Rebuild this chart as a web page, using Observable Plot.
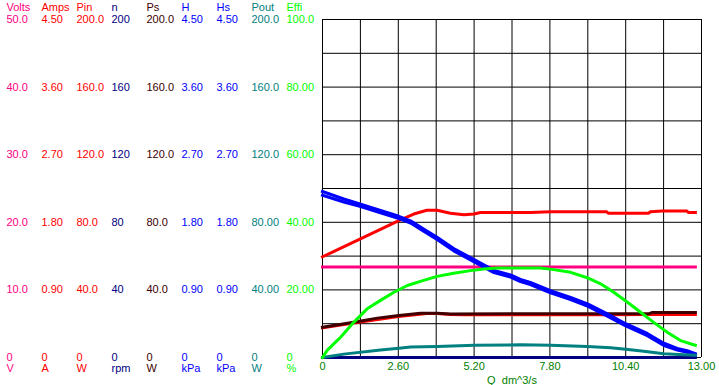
<!DOCTYPE html>
<html>
<head>
<meta charset="utf-8">
<script src="https://cdn.jsdelivr.net/npm/d3@7"></script>
<script src="https://cdn.jsdelivr.net/npm/@observablehq/plot@0.6"></script>
<style>
  html, body { margin: 0; padding: 0; background: #fff; }
  svg { display: block; }
</style>
</head>
<body>
<div id="chart"></div>
<script>
// ---- Column definitions (left label columns) ----
const colNames  = ["Volts", "Amps", "Pin", "n", "Ps", "H", "Hs", "Pout", "Effi"];
const colUnits  = ["V", "A", "W", "rpm", "W", "kPa", "kPa", "W", "%"];
const colMax    = [50, 4.5, 200, 200, 200, 4.5, 4.5, 200, 100];
const colColors = ["#ff0080", "#ff0000", "#ff0000", "#000080", "#400000", "#0000ff", "#0000ff", "#008080", "#00ff00"];

// tick labels for each column, bottom (0) to top
const voltsTicks = ["0", "10.0", "20.0", "30.0", "40.0", "50.0"];
const ampsTicks  = ["0", "0.90", "1.80", "2.70", "3.60", "4.50"];
const pinTicks   = ["0", "40.0", "80.0", "120.0", "160.0", "200.0"];
const nTicks     = ["0", "40", "80", "120", "160", "200"];
const psTicks    = ["0", "40.0", "80.0", "120.0", "160.0", "200.0"];
const hTicks     = ["0", "0.90", "1.80", "2.70", "3.60", "4.50"];
const hsTicks    = ["0", "0.90", "1.80", "2.70", "3.60", "4.50"];
const poutTicks  = ["0", "40.00", "80.00", "120.0", "160.0", "200.0"];
const effiTicks  = ["0", "20.00", "40.00", "60.00", "80.00", "100.0"];
const colTicks = [voltsTicks, ampsTicks, pinTicks, nTicks, psTicks, hTicks, hsTicks, poutTicks, effiTicks];
const tickFractions = [0, 0.2, 0.4, 0.6, 0.8, 1.0];

// x axis
const xTickValues = [0, 2.6, 5.2, 7.8, 10.4, 13.0];
const xTickLabels = ["0", "2.60", "5.20", "7.80", "10.40", "13.00"];
const xLabel = "Q\u00a0 dm^3/s";

// ---- Series (Q in dm^3/s) ----
const voltsQ = [0, 12.79];
const voltsV = [13.4, 13.4];

const ampsQ = [0, 1.3, 2.6, 3.13, 3.58, 3.93, 4.39, 4.85, 5.19, 5.42, 7.13, 7.82, 9.75, 9.8, 11.18, 11.25, 11.65, 12.5, 12.55, 12.79];
const ampsV = [1.34, 1.58, 1.82, 1.91, 1.96, 1.96, 1.92, 1.90, 1.91, 1.93, 1.93, 1.94, 1.94, 1.92, 1.92, 1.94, 1.95, 1.95, 1.93, 1.93];

const pinQ = [0, 1.3, 2.6, 3.58, 3.93, 4.39, 4.85, 5.42, 9.75, 11.18, 11.25, 12.79];
const pinV = [17.6, 21.0, 24.3, 26.0, 26.0, 25.5, 25.3, 25.3, 25.3, 25.4, 25.6, 25.4];

const nQ = [0, 12.79];
const nV = [0, 0];

const psQ = [0, 1.07, 1.88, 2.62, 3.36, 3.93, 4.39, 7.5, 11.2, 11.3, 12.79];
const psV = [17.9, 20.9, 23.3, 24.9, 26.2, 26.2, 25.8, 25.9, 25.9, 26.6, 26.6];

const hQ = [0, 0.73, 1.31, 1.88, 2.62, 3.02, 3.47, 3.93, 4.50, 5.22, 5.88, 6.45, 6.79, 7.13, 7.82, 8.51, 9.11, 9.77, 10.40, 11.14, 11.71, 12.17, 12.51, 12.79];
const hV = [2.21, 2.11, 2.04, 1.97, 1.88, 1.82, 1.71, 1.60, 1.45, 1.30, 1.16, 1.10, 1.04, 1.00, 0.89, 0.80, 0.71, 0.58, 0.45, 0.32, 0.19, 0.12, 0.09, 0.05];

const hsQ = [0, 0.73, 1.31, 1.88, 2.62, 3.02, 3.47, 3.93, 4.50, 5.22, 5.88, 6.45, 6.79, 7.13, 7.82, 8.51, 9.11, 9.77, 10.40, 11.14, 11.71, 12.17, 12.51, 12.79];
const hsV = [2.16, 2.07, 2.01, 1.94, 1.85, 1.79, 1.68, 1.57, 1.42, 1.27, 1.13, 1.07, 1.01, 0.97, 0.86, 0.77, 0.68, 0.55, 0.42, 0.29, 0.16, 0.10, 0.07, 0.03];

const poutQ = [0, 0.73, 1.99, 2.62, 3.02, 3.93, 5.22, 6.79, 7.82, 9.08, 9.88, 10.40, 11.02, 11.71, 12.40, 12.79];
const poutV = [0, 2.0, 4.5, 5.5, 6.2, 6.5, 7.2, 7.5, 7.3, 6.5, 5.7, 4.9, 3.7, 2.2, 1.6, 1.3];

const effiQ = [0, 0.16, 0.50, 0.62, 1.07, 1.53, 1.99, 2.45, 2.91, 3.47, 3.93, 4.50, 5.08, 5.53, 5.99, 7.13, 7.48, 7.93, 8.51, 9.08, 9.54, 9.99, 10.45, 10.91, 11.36, 11.82, 12.28, 12.79];
const effiV = [0, 2.1, 5.0, 6.0, 10.4, 14.4, 16.9, 19.3, 21.3, 22.8, 24.0, 24.9, 25.7, 26.2, 26.5, 26.5, 26.5, 26.0, 25.2, 23.6, 21.8, 19.3, 16.4, 13.4, 10.4, 7.5, 5.0, 3.6];

const seriesQ = [voltsQ, ampsQ, pinQ, nQ, psQ, hQ, hsQ, poutQ, effiQ];
const seriesV = [voltsV, ampsV, pinV, nV, psV, hV, hsV, poutV, effiV];

// ---- layout ----
const W = 719, Hgt = 385;
const mL = 322, mR = 18, mT = 19, mB = 28;
const colX = colNames.map((_, i) => 6 + 35 * i);
const FONT = "'Liberation Sans', Arial, sans-serif";
const FS = 11;

const marks = [];

// grid
marks.push(Plot.gridX(d3.range(0, 11).map(i => i * 1.3), {stroke: "#000", strokeOpacity: 1, strokeWidth: 1}));
marks.push(Plot.gridY(d3.range(0, 11).map(i => i / 10), {stroke: "#000", strokeOpacity: 1, strokeWidth: 1}));

// left label columns
colNames.forEach((name, i) => {
  const dx = colX[i] - mL;
  marks.push(Plot.text(tickFractions, {
    y: d => d, frameAnchor: "left", dx, textAnchor: "start", lineAnchor: "middle",
    text: (d, j) => colTicks[i][j], fill: colColors[i], fontSize: FS
  }));
  marks.push(Plot.text([name], {
    frameAnchor: "top-left", dx, dy: -12, textAnchor: "start", lineAnchor: "middle",
    text: d => d, fill: colColors[i], fontSize: FS
  }));
  marks.push(Plot.text([colUnits[i]], {
    frameAnchor: "bottom-left", dx, dy: 10.5, textAnchor: "start", lineAnchor: "middle",
    text: d => d, fill: colColors[i], fontSize: FS
  }));
});

// x tick labels and title
marks.push(Plot.text(xTickValues, {
  x: d => d, frameAnchor: "bottom", dy: 9, lineAnchor: "middle",
  text: (d, j) => xTickLabels[j], fill: "#008000", fontSize: FS
}));
marks.push(Plot.text([xLabel], {
  frameAnchor: "bottom", dy: 23, lineAnchor: "middle",
  text: d => d, fill: "#008000", fontSize: FS
}));

// series lines
seriesQ.forEach((qs, i) => {
  const data = qs.map((q, j) => ({q, v: seriesV[i][j] / colMax[i]}));
  marks.push(Plot.line(data, {
    x: "q", y: "v", stroke: colColors[i], strokeWidth: 3,
    strokeLinejoin: "round", strokeLinecap: "square", clip: false
  }));
});

const chart = Plot.plot({
  width: W, height: Hgt,
  marginLeft: mL, marginRight: mR, marginTop: mT, marginBottom: mB,
  style: {fontFamily: FONT, fontSize: FS + "px", background: "#fff"},
  x: {domain: [0, 13], axis: null},
  y: {domain: [0, 1], axis: null},
  marks
});
document.getElementById("chart").appendChild(chart);
</script>
</body>
</html>
